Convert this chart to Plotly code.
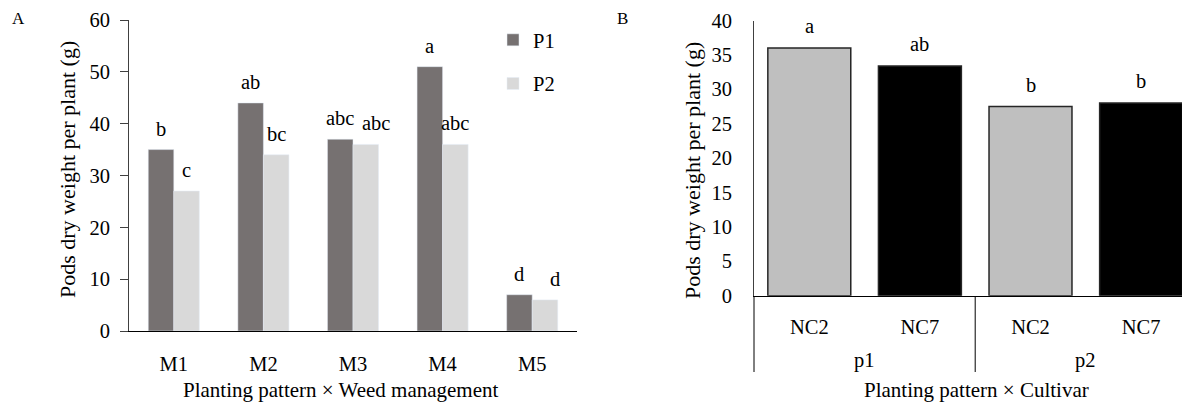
import plotly.graph_objects as go

# ---------------- data ----------------
managements = ["M1", "M2", "M3", "M4", "M5"]
p1_values = [35, 44, 37, 51, 7]
p2_values = [27, 34, 36, 36, 6]
p1_letters = ["b", "ab", "abc", "a", "d"]
p2_letters = ["c", "bc", "abc", "abc", "d"]

patterns = ["p1", "p1", "p2", "p2"]
cultivars = ["NC2", "NC7", "NC2", "NC7"]
cultivar_values = [36.0, 33.4, 27.5, 28.0]
cultivar_letters = ["a", "ab", "b", "b"]

# ---------------- style ----------------
W, H = 1190, 403
PAGE_OFF = 8  # default page margin around the figure
FONT = "Liberation Serif, Times New Roman, serif"
FS = 20.5
C_P1 = "#767171"
C_P2 = "#d9d9d9"
C_CULT = {"NC2": "#bfbfbf", "NC7": "#000000"}
BARGAP = 0.43


def px_x(p):
    return (p - PAGE_OFF) / W


def px_y(p):
    return (H - (p - PAGE_OFF)) / H


def note(x, y, text, xref="paper", yref="paper", size=FS, **kw):
    d = dict(x=x, y=y, xref=xref, yref=yref, text=text, showarrow=False,
             xanchor="center", yanchor="middle", font=dict(size=size))
    d.update(kw)
    return d


fig = go.Figure()

# Panel A
fig.add_trace(go.Bar(x=managements, y=p1_values, name="P1", marker_color=C_P1,
                     legendgroup="P1", xaxis="x", yaxis="y"))
fig.add_trace(go.Bar(x=managements, y=p2_values, name="P2", marker_color=C_P2,
                     legendgroup="P2", xaxis="x", yaxis="y"))

# Panel B
keys = [f"{p}|{c}" for p, c in zip(patterns, cultivars)]
fig.add_trace(go.Bar(x=keys, y=cultivar_values, width=0.75, showlegend=False,
                     marker=dict(color=[C_CULT[c] for c in cultivars],
                                 line=dict(color="#262626", width=1.5)),
                     xaxis="x2", yaxis="y2"))

annotations = []
off = (1 - BARGAP) / 4
for i, (v1, v2, l1, l2) in enumerate(zip(p1_values, p2_values, p1_letters, p2_letters)):
    annotations.append(note(i - off, v1, l1, "x", "y", yshift=21))
    xs = 10 if (l1 == l2 and abs(v1 - v2) < 3) else 0
    annotations.append(note(i + off, v2, l2, "x", "y", yshift=21, xshift=xs))
for i, (v, l) in enumerate(zip(cultivar_values, cultivar_letters)):
    annotations.append(note(i, v, l, "x2", "y2", yshift=22))

# group labels p1 / p2
groups = []
for p in patterns:
    if p not in groups:
        groups.append(p)
for g in groups:
    idx = [i for i, p in enumerate(patterns) if p == g]
    annotations.append(note(sum(idx) / len(idx), px_y(360), g, "x2", "paper"))

# titles and panel letters
annotations += [
    note(px_x(341), px_y(390), "Planting pattern × Weed management", size=21),
    note(px_x(976), px_y(390), "Planting pattern × Cultivar", size=21),
    note(px_x(67), px_y(170), "Pods dry weight per plant (g)", size=22, textangle=-90),
    note(px_x(692), px_y(171), "Pods dry weight per plant (g)", size=22, textangle=-90),
    note(px_x(18), px_y(18), "A", size=17),
    note(px_x(622), px_y(18), "B", size=17),
]

# right panel x-range: 110.6 px per category starting at screen x=754
X2_START, X2_END = px_x(754), 1.0
cat_px = 110.6
X2_RANGE = [-0.5, -0.5 + (X2_END - X2_START) * W / cat_px]
div_frac = (1.5 - X2_RANGE[0]) / (X2_RANGE[1] - X2_RANGE[0])
shapes = [
    dict(type="line", xref="x2 domain", yref="paper", x0=0, x1=0,
         y0=px_y(372), y1=px_y(296), line=dict(color="#000000", width=1)),
    dict(type="line", xref="x2 domain", yref="paper", x0=div_frac, x1=div_frac,
         y0=px_y(372), y1=px_y(296), line=dict(color="#000000", width=1)),
]

fig.update_layout(
    width=W, height=H, autosize=False,
    margin=dict(l=0, r=0, t=0, b=0, pad=0, autoexpand=False),
    paper_bgcolor="white", plot_bgcolor="white",
    font=dict(family=FONT, size=FS, color="#000000"),
    barmode="group", bargap=BARGAP,
    showlegend=True,
    legend=dict(x=px_x(493), y=px_y(20), xanchor="left", yanchor="top",
                font=dict(size=FS), tracegroupgap=14, bgcolor="rgba(0,0,0,0)"),
    xaxis=dict(domain=[px_x(129), px_x(577)], anchor="y", type="category",
               showline=True, linecolor="#000000", linewidth=1, ticks="",
               ticklabelstandoff=14, showgrid=False, automargin=False),
    yaxis=dict(domain=[px_y(331), px_y(20)], anchor="x", range=[0, 60], dtick=10,
               showline=True, linecolor="#404040", linewidth=1, ticks="outside",
               ticklen=8, tickcolor="#404040", ticklabelstandoff=6,
               showgrid=False, zeroline=False, automargin=False),
    xaxis2=dict(domain=[X2_START, X2_END], anchor="y2", type="category", range=X2_RANGE,
                tickvals=keys, ticktext=cultivars,
                showline=True, linecolor="#000000", linewidth=1, ticks="",
                ticklabelstandoff=13, showgrid=False, automargin=False),
    yaxis2=dict(domain=[px_y(295.7), px_y(20.5)], anchor="x2", range=[0, 40], dtick=5,
                showline=True, linecolor="#404040", linewidth=1, ticks="",
                ticklabelstandoff=17, showgrid=False, zeroline=False, automargin=False),
    annotations=annotations,
    shapes=shapes,
)

fig.write_html("out.html")
